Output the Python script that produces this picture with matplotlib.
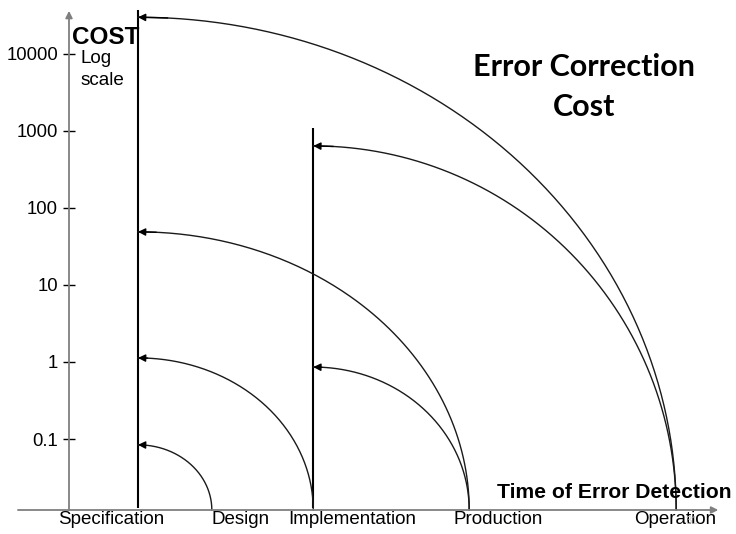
import numpy as np
import matplotlib.pyplot as plt

plt.rcParams['font.family'] = ['Liberation Sans', 'DejaVu Sans']

# stages along the time axis (time units: distance from cost axis)
stages = ['Specification', 'Design', 'Implementation', 'Production', 'Operation']
stage_time = [1.0, 2.07, 3.54, 5.80, 8.80]
label_time = [0.61, 2.48, 4.10, 6.22, 8.78]

cost_ticks = [0.1, 1, 10, 100, 1000, 10000]
cost_labels = ['0.1', '1', '10', '100', '1000', '10000']

# error made in one stage, found in a later one -> relative cost to fix
made_in = ['Specification', 'Specification', 'Specification', 'Specification',
           'Implementation', 'Implementation']
found_in = ['Design', 'Implementation', 'Production', 'Operation',
            'Production', 'Operation']
fix_cost = [0.084, 1.13, 49, 30000, 0.86, 640]

line_top = {'Specification': 38000, 'Implementation': 1100}

W, H = 736, 534
y_min = 10 ** -1.922
y_max = 10 ** 4.571
x_max = 651 / 69

fig = plt.figure(figsize=(W / 100, H / 100), dpi=100)
ax = fig.add_axes([69 / W, 24 / H, 651 / W, 500 / H])
ax.set_yscale('log')
ax.set_xlim(0, x_max)
ax.set_ylim(y_min, y_max)
for s in ax.spines.values():
    s.set_visible(False)

t_of = dict(zip(stages, stage_time))

# axes with arrows
axis_col = '#7f7f7f'
ax.annotate('', xy=(0, 10 ** 4.56), xytext=(0, y_min), annotation_clip=False,
            arrowprops=dict(arrowstyle='-|>', color=axis_col, lw=1.3,
                            mutation_scale=10, shrinkA=0, shrinkB=0))
ax.annotate('', xy=(9.41, y_min), xytext=(-0.74, y_min), annotation_clip=False,
            arrowprops=dict(arrowstyle='-|>', color=axis_col, lw=1.3,
                            mutation_scale=10, shrinkA=0, shrinkB=0))

# vertical lines at stages where errors are introduced
for st, top in line_top.items():
    ax.plot([t_of[st], t_of[st]], [y_min * 1.06, top], color='black', lw=1.5,
            solid_capstyle='butt')

# quarter-ellipse arcs (in time / log-cost space)
lo = np.log10(y_min)
for m, f, c in zip(made_in, found_in, fix_cost):
    x0 = t_of[m]
    a = t_of[f] - x0
    b = np.log10(c) - lo
    t = np.linspace(0, np.pi / 2, 200)
    xs = x0 + a * np.cos(t)
    ys = 10 ** (lo + b * np.sin(t))
    ax.plot(xs, ys, color='#1a1a1a', lw=1.0, clip_on=False)
    ax.annotate('', xy=(xs[-1], ys[-1]), xytext=(xs[-8], ys[-8]),
                arrowprops=dict(arrowstyle='-|>', color='black', lw=1.0,
                                mutation_scale=11, shrinkA=0, shrinkB=0))

ax.set_yticks(cost_ticks)
ax.set_yticklabels(cost_labels)
ax.yaxis.set_minor_locator(plt.NullLocator())
ax.tick_params(axis='y', direction='inout', length=8, width=1, color='black',
               labelsize=13.3, pad=4)
ax.set_xticks(label_time)
ax.set_xticklabels(stages)
ax.tick_params(axis='x', length=0, labelsize=13.5, pad=1)

fig.text(72 / W, 1 - 37 / H, 'COST', fontsize=17.5, fontweight='bold',
         ha='left', va='center')
fig.text(81 / W, 1 - 50 / H, 'Log\nscale', fontsize=13.6, ha='left', va='top',
         linespacing=1.4)
fig.text(614 / W, 1 - 492 / H, 'Time of Error Detection', fontsize=15.2,
         fontweight='bold', ha='center', va='center')
fig.text(584 / W, 1 - 87 / H, 'Error Correction\nCost', fontsize=22,
         fontweight='bold', ha='center', va='center', linespacing=1.55,
         family=['Lato', 'DejaVu Sans'])
fig.text(692 / W, 1 - 521 / H, '31', fontsize=8, color='#c8c8c8',
         ha='center', va='center')

fig.savefig('out.png', dpi=100)
